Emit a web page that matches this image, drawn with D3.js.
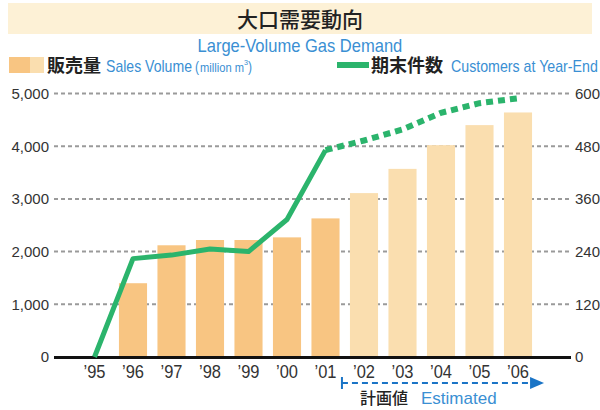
<!DOCTYPE html>
<html>
<head>
<meta charset="utf-8">
<script src="https://cdn.jsdelivr.net/npm/d3@7"></script>
<style>
  body { margin: 0; background: #fff; }
  .en { font-family: "Liberation Sans Narrow", "Liberation Sans", sans-serif; }
  .ja { font-family: "Noto Sans CJK JP", sans-serif; }
  .num { font-family: "Liberation Sans", "DejaVu Sans", sans-serif; font-size: 15px; fill: #333; }
</style>
</head>
<body>
<div id="chart"></div>
<script>
const years = ["’95", "’96", "’97", "’98", "’99", "’00", "’01", "’02", "’03", "’04", "’05", "’06"];
const sales = [null, 1400, 2120, 2220, 2220, 2270, 2630, 3110, 3570, 4020, 4400, 4640];
const customers = [0, 224, 232, 246, 240, 313, 471, 493, 518, 556, 578, 589];
const firstEstimate = 7; // '02 onward are plan values
const leftTicks = [0, 1000, 2000, 3000, 4000, 5000];
const rightTicks = [0, 120, 240, 360, 480, 600];

const width = 600, height = 410;
const blue = "#3a8fd3", green = "#2bb46c";
const barActual = "#f8c582", barPlan = "#fadeaf";

const svg = d3.select("#chart").append("svg")
    .attr("width", width)
    .attr("height", height);

// english text in the original is a condensed face: draw it squeezed to a target width
function narrowText(px, py, size, str, w, anchor) {
  const g = svg.append("g");
  const t = g.append("text").attr("class", "en")
      .attr("font-size", size).attr("fill", blue).text(str);
  const nat = t.node().getComputedTextLength();
  const s = Math.min(1, w / nat);
  const x0 = anchor === "middle" ? px - w / 2 : px;
  g.attr("transform", `translate(${x0},${py}) scale(${s},1)`);
  return t;
}

// title band
svg.append("rect")
    .attr("x", 8).attr("y", 3).attr("width", 584).attr("height", 31)
    .attr("fill", "#fdf1d6");
svg.append("text").attr("class", "ja")
    .attr("x", 300).attr("y", 27).attr("text-anchor", "middle")
    .attr("font-size", 21).attr("font-weight", 500).attr("fill", "#222")
    .text("大口需要動向");
narrowText(300, 52, 18, "Large-Volume Gas Demand", 205, "middle");

// scales
const x = d3.scaleBand()
    .domain(years)
    .range([75.25, 537.25])
    .paddingInner(0.27)
    .paddingOuter(0.135);

const yL = d3.scaleLinear().domain([0, 5000]).range([357, 93.5]);
const yR = d3.scaleLinear().domain([0, 600]).range([357, 93.5]);

// grid lines
svg.append("g")
    .selectAll("line")
    .data(leftTicks.slice(1))
    .enter().append("line")
    .attr("x1", 54).attr("x2", 569)
    .attr("y1", d => yL(d)).attr("y2", d => yL(d))
    .attr("stroke", "#9a9a9a").attr("stroke-width", 2)
    .attr("stroke-dasharray", "4,3");

// left axis
const axL = svg.append("g")
    .attr("transform", "translate(49,0)")
    .call(d3.axisLeft(yL).tickValues(leftTicks).tickSize(0).tickPadding(0).tickFormat(d3.format(",")));
axL.select(".domain").remove();
axL.selectAll("text").attr("class", "num").attr("font-size", null).attr("font-family", null);

// right axis
const axR = svg.append("g")
    .attr("transform", "translate(575,0)")
    .call(d3.axisRight(yR).tickValues(rightTicks).tickSize(0).tickPadding(0));
axR.select(".domain").remove();
axR.selectAll("text").attr("class", "num").attr("font-size", null).attr("font-family", null);

// bars
svg.append("g")
    .selectAll("rect")
    .data(years.map((y, i) => ({ year: y, v: sales[i], i: i })).filter(d => d.v != null))
    .enter().append("rect")
    .attr("x", d => x(d.year))
    .attr("y", d => yL(d.v))
    .attr("width", x.bandwidth())
    .attr("height", d => yL(0) - yL(d.v))
    .attr("fill", d => d.i >= firstEstimate ? barPlan : barActual);

// baseline
svg.append("line")
    .attr("x1", 54).attr("x2", 571)
    .attr("y1", 357.5).attr("y2", 357.5)
    .attr("stroke", "#111").attr("stroke-width", 3);

// customers line
const pts = years.map((y, i) => ({ year: y, v: customers[i], i: i }));
const line = d3.line()
    .x(d => x(d.year) + x.bandwidth() / 2)
    .y(d => yR(d.v));

svg.append("path")
    .datum(pts.filter(d => d.i <= firstEstimate - 1))
    .attr("d", line)
    .attr("fill", "none").attr("stroke", green)
    .attr("stroke-width", 5).attr("stroke-linejoin", "round");

svg.append("path")
    .datum(pts.filter(d => d.i >= firstEstimate - 1))
    .attr("d", line)
    .attr("fill", "none").attr("stroke", green)
    .attr("stroke-width", 6).attr("stroke-dasharray", "7,5");

// x labels
years.forEach(d => {
  narrowText(x(d) + x.bandwidth() / 2, 378, 18, d, 22, "middle").attr("fill", "#333");
});

// legend
svg.append("rect").attr("x", 9).attr("y", 57).attr("width", 21).attr("height", 16).attr("fill", barActual);
svg.append("rect").attr("x", 30).attr("y", 57).attr("width", 14).attr("height", 16).attr("fill", barPlan);
svg.append("text").attr("class", "ja")
    .attr("x", 47).attr("y", 72).attr("font-size", 18).attr("font-weight", "bold").attr("fill", "#222")
    .text("販売量");
narrowText(106, 72, 17, "Sales Volume", 86);
narrowText(195, 72, 15, "(", 4);
narrowText(200, 72, 12, "million m", 44);
narrowText(244, 65, 8, "3", 4);
narrowText(248, 72, 15, ")", 4);

svg.append("line").attr("x1", 337).attr("x2", 369).attr("y1", 65).attr("y2", 65)
    .attr("stroke", green).attr("stroke-width", 6);
svg.append("text").attr("class", "ja")
    .attr("x", 371).attr("y", 72).attr("font-size", 18).attr("font-weight", "bold").attr("fill", "#222")
    .text("期末件数");
narrowText(451, 72, 17, "Customers at Year-End", 147);

// estimated arrow
const arrowY = 383;
const ax0 = x(years[firstEstimate]) - 8, ax1 = x(years[years.length - 1]) + x.bandwidth() + 12;
svg.append("line").attr("x1", ax0).attr("x2", ax0).attr("y1", arrowY - 6).attr("y2", arrowY + 6)
    .attr("stroke", "#1a74c6").attr("stroke-width", 2);
svg.append("line").attr("x1", ax0).attr("x2", ax1 - 10).attr("y1", arrowY).attr("y2", arrowY)
    .attr("stroke", "#1a74c6").attr("stroke-width", 2).attr("stroke-dasharray", "6,4");
svg.append("path")
    .attr("d", `M${ax1 - 14},${arrowY - 6} L${ax1},${arrowY} L${ax1 - 14},${arrowY + 6} Z`)
    .attr("fill", "#1a74c6");

svg.append("text").attr("class", "ja")
    .attr("x", 360).attr("y", 404).attr("font-size", 16).attr("font-weight", 500).attr("fill", "#222")
    .text("計画値");
narrowText(421, 404, 17, "Estimated", 79);
</script>
</body>
</html>
